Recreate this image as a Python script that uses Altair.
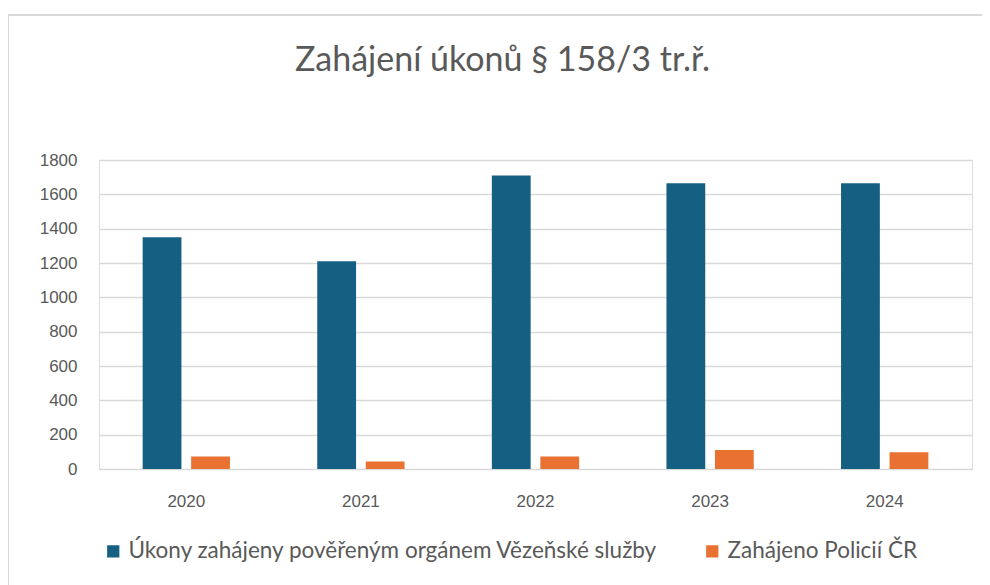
import altair as alt
import pandas as pd

years = ["2020", "2021", "2022", "2023", "2024"]
series_names = ["Úkony zahájeny pověřeným orgánem Vězeňské služby", "Zahájeno Policií ČR"]
vezenska = [1350, 1210, 1710, 1665, 1665]
policie = [73, 44, 73, 110, 97]
y_ticks = [0, 200, 400, 600, 800, 1000, 1200, 1400, 1600, 1800]
colors = ["#156082", "#E97132"]

rows = []
for i, y in enumerate(years):
    rows.append({"rok": y, "serie": series_names[0], "hodnota": vezenska[i]})
    rows.append({"rok": y, "serie": series_names[1], "hodnota": policie[i]})
df = pd.DataFrame(rows)

W, H = 873, 309
prop = "Lato, Open Sans, sans-serif"
sans = "Liberation Sans, Arial, sans-serif"

bars = alt.Chart(df).mark_bar().encode(
    x=alt.X("rok:N", sort=years,
            scale=alt.Scale(paddingInner=0.5, paddingOuter=0.25),
            axis=alt.Axis(title=None, labelAngle=0, domain=False, ticks=False,
                          labelPadding=24, labelFontSize=17, labelFont=sans,
                          labelColor="#595959", grid=False)),
    xOffset=alt.XOffset("serie:N", sort=series_names,
                        scale=alt.Scale(paddingInner=0.2)),
    y=alt.Y("hodnota:Q",
            scale=alt.Scale(domain=[0, 1800], nice=False),
            axis=alt.Axis(title=None, values=y_ticks, format="d", domain=False, ticks=False,
                          labelPadding=22, labelFontSize=17, labelFont=sans,
                          labelColor="#595959", gridColor="#d9d9d9",
                          gridWidth=1.5)),
    color=alt.Color("serie:N", sort=series_names,
                    scale=alt.Scale(domain=series_names, range=colors),
                    legend=alt.Legend(title=None, orient="none", direction="horizontal",
                                      legendX=3, legendY=380,
                                      symbolType="square", symbolSize=150,
                                      symbolStrokeWidth=0, labelFont=prop,
                                      labelFontSize=22.5, labelColor="#595959",
                                      labelOffset=4, columnPadding=42,
                                      labelLimit=0)),
)

frame = alt.Chart(df).mark_rect(fill=None, stroke="#d9d9d9", strokeWidth=2).encode(
    x=alt.value(-91), x2=alt.value(W + 60),
    y=alt.value(-145), y2=alt.value(H + 160),
)

chart = alt.layer(frame, bars).properties(
    width=W, height=H,
    title=alt.TitleParams("Zahájení úkonů § 158/3 tr.ř.", font=prop, fontSize=34,
                          fontWeight="normal", color="#595959", anchor="middle",
                          baseline="alphabetic", dx=-33, offset=-91),
    autosize=alt.AutoSizeParams(type="none"),
    padding={"left": 91, "top": 152, "right": 10, "bottom": 116},
).configure_view(strokeWidth=0, stroke="transparent").configure(background="white")

chart.save("out.html", embed_options={"renderer": "svg", "actions": False})
